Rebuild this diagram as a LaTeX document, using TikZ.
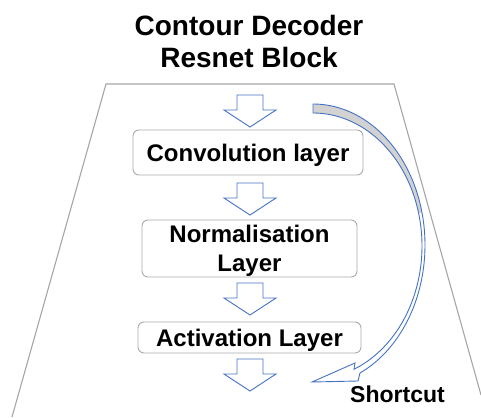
\documentclass[tikz,border=0pt]{standalone}
\usepackage{fontspec}
\setmainfont{Liberation Sans}
\definecolor{arrowblue}{HTML}{4472C4}
\definecolor{framegray}{HTML}{A6A6A6}
\definecolor{boxgray}{HTML}{ABABAB}
\definecolor{bandgray}{HTML}{D2D2D2}
\tikzset{
  pics/downarrow/.style={code={
    \draw[blockarrow] (-13,0) -- (13,0) -- (13,15) -- (26,15) -- (0,32)
      -- (-26,15) -- (-13,15) -- cycle;}}
}
\begin{document}
\begin{tikzpicture}[x=1pt,y=-1pt,
  layer/.style={draw=boxgray, line width=0.9pt, rounded corners=6pt, fill=white,
    align=center, inner sep=0pt, text depth=0pt,
    font=\fontsize{24}{29}\selectfont\bfseries},
  blockarrow/.style={draw=arrowblue, line width=0.9pt, fill=white, line join=miter},
  blockframe/.style={draw=framegray, line width=1.1pt},
  shortcutband/.style={draw=arrowblue, line width=0.9pt, line join=miter}]

% canvas
\useasboundingbox (0,0) rectangle (481,417);
\fill[white] (0,0) rectangle (481,417);

% title
\node[align=center, inner sep=0pt, font=\fontsize{28}{32}\selectfont\bfseries]
  (title) at (249,41) {Contour Decoder\\Resnet Block};

% block outline (trapezoid)
\coordinate (tl) at (106,84);
\coordinate (tr) at (394,84);
\coordinate (bl) at (12,417);
\coordinate (br) at (481,395);
\draw[blockframe] (bl) -- (tl) -- (tr) -- (br);

% layers
\node[layer, minimum width=230pt, minimum height=45pt] (conv) at (248,152.5) {Convolution layer};
\node[layer, minimum width=215pt, minimum height=57pt] (norm) at (249.5,248.5) {Normalisation\\Layer};
\node[layer, minimum width=223pt, minimum height=31pt] (act) at (249.5,337.5) {Activation Layer};

% flow arrows
\pic at (250,95) {downarrow};
\pic at (250,183) {downarrow};
\pic at (250,283) {downarrow};
\pic at (250,359) {downarrow};

% shortcut: curved band, back face shaded near its start
\begin{scope}
  \clip (300,90) rectangle (440,212);
  \fill[bandgray]
    plot[domain=90:-65.2, samples=90, variable=\t] ({313+112*cos(\t)},{245-141*sin(\t)})
    -- plot[domain=-67.9:90, samples=90, variable=\t] ({313+109*cos(\t)},{246-133*sin(\t)})
    -- cycle;
\end{scope}
\draw[shortcutband]
  plot[domain=90:-65.2, samples=90, variable=\t] ({313+112*cos(\t)},{245-141*sin(\t)})
  -- (358,381) -- (312,382) -- (355,363)
  -- plot[domain=-67.9:90, samples=90, variable=\t] ({313+109*cos(\t)},{246-133*sin(\t)})
  -- cycle;
\node[anchor=base west, inner sep=0pt, font=\fontsize{23}{27}\selectfont\bfseries]
  (shortcut) at (350,402) {Shortcut};
\end{tikzpicture}
\end{document}
